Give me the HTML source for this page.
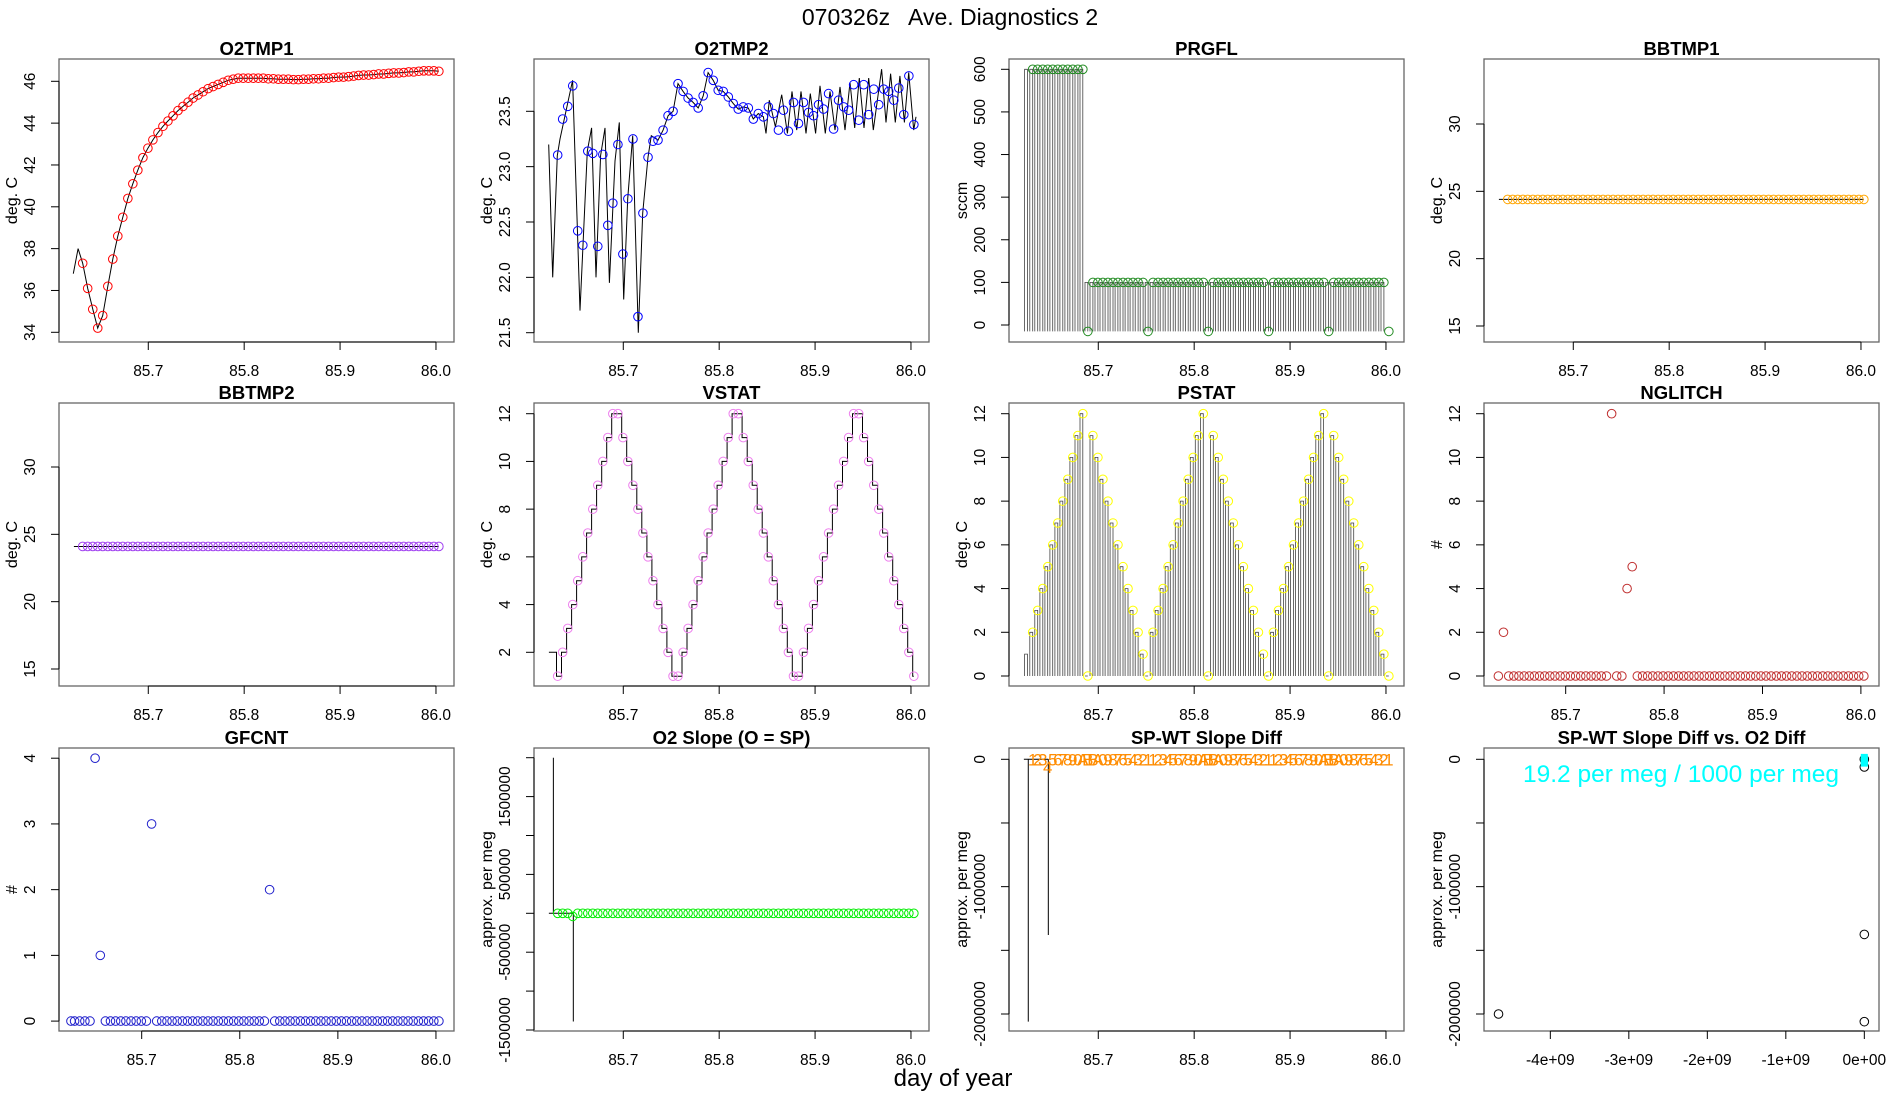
<!DOCTYPE html>
<html><head><meta charset="utf-8"><title>070326z Ave. Diagnostics 2</title>
<style>
html,body{margin:0;padding:0;background:#fff;}
svg{display:block;font-family:"Liberation Sans",Arial,sans-serif;}
</style></head>
<body>
<svg id="chart" width="1900" height="1100" viewBox="0 0 1900 1100" xmlns="http://www.w3.org/2000/svg">
<rect width="1900" height="1100" fill="#fff"/>
<text x="950" y="25" text-anchor="middle" font-size="23" xml:space="preserve">070326z   Ave. Diagnostics 2</text>
<text x="953" y="1086" text-anchor="middle" font-size="24">day of year</text>
</svg>
<script>
// ---- data ----
const t = [85.6316,85.6368,85.6421,85.6473,85.6525,85.6578,85.6630,85.6682,85.6734,85.6787,85.6839,85.6891,85.6944,85.6996,85.7048,85.7101,85.7153,85.7205,85.7258,85.7310,85.7362,85.7415,85.7467,85.7519,85.7571,85.7624,85.7676,85.7728,85.7781,85.7833,85.7885,85.7938,85.7990,85.8042,85.8095,85.8147,85.8199,85.8251,85.8304,85.8356,85.8408,85.8461,85.8513,85.8565,85.8618,85.8670,85.8722,85.8775,85.8827,85.8879,85.8932,85.8984,85.9036,85.9088,85.9141,85.9193,85.9245,85.9298,85.9350,85.9402,85.9455,85.9507,85.9559,85.9612,85.9664,85.9716,85.9768,85.9821,85.9873,85.9925,85.9978,86.0030];
const o2tmp1 = [37.3,36.1,35.1,34.2,34.8,36.2,37.5,38.6,39.5,40.4,41.1,41.75,42.35,42.8,43.2,43.55,43.85,44.1,44.35,44.6,44.8,45.0,45.2,45.35,45.5,45.65,45.75,45.85,45.95,46.05,46.1,46.15,46.15,46.15,46.15,46.15,46.15,46.12,46.12,46.1,46.1,46.1,46.08,46.08,46.1,46.1,46.12,46.12,46.15,46.15,46.18,46.2,46.2,46.22,46.25,46.28,46.3,46.3,46.32,46.35,46.35,46.38,46.4,46.4,46.42,46.45,46.45,46.48,46.5,46.5,46.5,46.48];
const o2tmp1LeadX = [85.6218,85.6268];
const o2tmp1LeadY = [36.8,38.0];
const o2tmp2 = [23.105,23.43,23.545,23.73,22.42,22.29,23.14,23.12,22.28,23.11,22.47,22.67,23.2,22.21,22.71,23.25,21.645,22.58,23.085,23.23,23.24,23.33,23.46,23.5,23.75,23.68,23.62,23.58,23.53,23.64,23.85,23.78,23.69,23.68,23.63,23.57,23.52,23.54,23.53,23.43,23.48,23.45,23.54,23.48,23.33,23.51,23.32,23.58,23.39,23.58,23.49,23.46,23.56,23.52,23.66,23.34,23.6,23.54,23.51,23.74,23.42,23.74,23.47,23.7,23.56,23.7,23.68,23.6,23.71,23.47,23.82,23.38];
const o2tmp2LineX = [85.6222,85.6264,85.6312,85.6340,85.6472,85.6549,85.6625,85.6670,85.6716,85.6764,85.6809,85.6855,85.6914,85.6959,85.7004,85.7046,85.7098,85.7157,85.7202,85.7258,85.7292];
const o2tmp2LineY = [23.2,22.0,23.1,23.25,23.78,21.7,23.14,23.35,22.0,23.1,23.35,21.95,23.05,23.4,21.8,22.71,23.28,21.5,22.58,23.085,23.28];
const o2tmp2TailX = [85.8488,85.8523,85.8586,85.8652,85.8711,85.8759,85.8808,85.8853,85.8905,85.8950,85.9006,85.9051,85.9107,85.9156,85.9208,85.9260,85.9312,85.9364,85.9413,85.9461,85.9510,85.9559,85.9607,85.9694,85.9740,85.9788,85.9837,85.9885,85.9931,85.9976,86.0028,86.0052];
const o2tmp2TailY = [23.3,23.6,23.36,23.65,23.3,23.68,23.33,23.68,23.3,23.66,23.3,23.73,23.3,23.68,23.33,23.72,23.33,23.76,23.35,23.8,23.35,23.8,23.33,23.88,23.4,23.84,23.4,23.82,23.4,23.85,23.33,23.45];
const prgfl = [600,600,600,600,600,600,600,600,600,600,600,-15,100,100,100,100,100,100,100,100,100,100,100,-15,100,100,100,100,100,100,100,100,100,100,100,-15,100,100,100,100,100,100,100,100,100,100,100,-15,100,100,100,100,100,100,100,100,100,100,100,-15,100,100,100,100,100,100,100,100,100,100,100,-15];
const bbtmp1 = [24.4,24.4,24.4,24.4,24.4,24.4,24.4,24.4,24.4,24.4,24.4,24.4,24.4,24.4,24.4,24.4,24.4,24.4,24.4,24.4,24.4,24.4,24.4,24.4,24.4,24.4,24.4,24.4,24.4,24.4,24.4,24.4,24.4,24.4,24.4,24.4,24.4,24.4,24.4,24.4,24.4,24.4,24.4,24.4,24.4,24.4,24.4,24.4,24.4,24.4,24.4,24.4,24.4,24.4,24.4,24.4,24.4,24.4,24.4,24.4,24.4,24.4,24.4,24.4,24.4,24.4,24.4,24.4,24.4,24.4,24.4,24.4];
const bbtmp2 = [24.1,24.1,24.1,24.1,24.1,24.1,24.1,24.1,24.1,24.1,24.1,24.1,24.1,24.1,24.1,24.1,24.1,24.1,24.1,24.1,24.1,24.1,24.1,24.1,24.1,24.1,24.1,24.1,24.1,24.1,24.1,24.1,24.1,24.1,24.1,24.1,24.1,24.1,24.1,24.1,24.1,24.1,24.1,24.1,24.1,24.1,24.1,24.1,24.1,24.1,24.1,24.1,24.1,24.1,24.1,24.1,24.1,24.1,24.1,24.1,24.1,24.1,24.1,24.1,24.1,24.1,24.1,24.1,24.1,24.1,24.1,24.1];
const vstat = [1,2,3,4,5,6,7,8,9,10,11,12,12,11,10,9,8,7,6,5,4,3,2,1,1,2,3,4,5,6,7,8,9,10,11,12,12,11,10,9,8,7,6,5,4,3,2,1,1,2,3,4,5,6,7,8,9,10,11,12,12,11,10,9,8,7,6,5,4,3,2,1];
const pstat = [2,3,4,5,6,7,8,9,10,11,12,0,11,10,9,8,7,6,5,4,3,2,1,0,2,3,4,5,6,7,8,9,10,11,12,0,11,10,9,8,7,6,5,4,3,2,1,0,2,3,4,5,6,7,8,9,10,11,12,0,11,10,9,8,7,6,5,4,3,2,1,0];
const nglitch = [0,2,0,0,0,0,0,0,0,0,0,0,0,0,0,0,0,0,0,0,0,0,12,0,0,4,5,0,0,0,0,0,0,0,0,0,0,0,0,0,0,0,0,0,0,0,0,0,0,0,0,0,0,0,0,0,0,0,0,0,0,0,0,0,0,0,0,0,0,0,0,0];
const gfcntLeadX = [85.6279];
const gfcntLeadY = [0];
const gfcnt = [0,0,0,0,4,1,0,0,0,0,0,0,0,0,0,3,0,0,0,0,0,0,0,0,0,0,0,0,0,0,0,0,0,0,0,0,0,0,2,0,0,0,0,0,0,0,0,0,0,0,0,0,0,0,0,0,0,0,0,0,0,0,0,0,0,0,0,0,0,0,0,0];
const o2slope = [0,0,0,-40000,0,0,0,0,0,0,0,0,0,0,0,0,0,0,0,0,0,0,0,0,0,0,0,0,0,0,0,0,0,0,0,0,0,0,0,0,0,0,0,0,0,0,0,0,0,0,0,0,0,0,0,0,0,0,0,0,0,0,0,0,0,0,0,0,0,0,0,0];
const o2slopeStemX = [85.6224,85.6271,85.6479];
const o2slopeStemY = [0,2000000,-1390000];
const spwt = [0,0,0,-60000,0,0,0,0,0,0,0,0,0,0,0,0,0,0,0,0,0,0,0,0,0,0,0,0,0,0,0,0,0,0,0,0,0,0,0,0,0,0,0,0,0,0,0,0,0,0,0,0,0,0,0,0,0,0,0,0,0,0,0,0,0,0,0,0,0,0,0,0];
const spwtStemX = [85.6224,85.6270,85.6479];
const spwtStemY = [0,-2060000,-1380000];
const vsDiffX = [-4.66e9,0,0,0,0];
const vsDiffY = [-2000000,-2060000,-1375000,-60000,0];
const vsCyanX = [0,0,0,0];
const vsCyanY = [15000,0,-15000,-30000];
const dayTicks = [85.7,85.8,85.9,86.0];
const dayTickLabels = ["85.7","85.8","85.9","86.0"];
const e9Ticks = [-4e9,-3e9,-2e9,-1e9,0];
const e9TickLabels = ["-4e+09","-3e+09","-2e+09","-1e+09","0e+00"];

// ---- layout ----
const NS = "http://www.w3.org/2000/svg";
const svg = document.getElementById("chart");
const colLeft = [59,534,1009,1484], rowTop = [59,403,748], PW = 395, PH = 283;
const STD = [85.6069,86.0188];

function mk(tag, attrs, parent){
  const e = document.createElementNS(NS, tag);
  for (const k in attrs) e.setAttribute(k, attrs[k]);
  (parent||svg).appendChild(e);
  return e;
}

function makePanel(cfg){
  const L = colLeft[cfg.col], T = rowTop[cfg.row];
  const g = mk("g", {});
  
  
  const xd = cfg.xd;
  const sx = d => L + (d - xd[0]) / (xd[1] - xd[0]) * PW;
  const [v1,p1,v2,p2] = cfg.yref;
  const sy = v => p1 + (v - v1) * (p2 - p1) / (v2 - v1);
  const box = mk("rect", {x:L, y:T, width:PW, height:PH, fill:"none", stroke:"#666", "stroke-width":1.3}, g);
  
  
  const title = mk("text", {x:L+PW/2, y:T-4, "text-anchor":"middle", "font-size":18.5, "font-weight":"bold"}, g);
  title.textContent = cfg.title;
  
  
  const xa = mk("g", {}, g);
  
  
  const xt = cfg.xticks, xl = cfg.xlabels;
  const xaxLine = mk("line", {x1:sx(xt[0]), x2:sx(xt[xt.length-1]), y1:T+PH, y2:T+PH, stroke:"#000", "stroke-width":1}, xa);
  
  
  xt.forEach((v,i)=>{
    const tk = mk("line", {x1:sx(v), x2:sx(v), y1:T+PH, y2:T+PH+8, stroke:"#000", "stroke-width":1}, xa);
    
    
    const lb = mk("text", {x:sx(v), y:T+PH+34, "text-anchor":"middle", "font-size":15.5}, xa);
    lb.textContent = xl[i];
    
    
  });
  const ya = mk("g", {}, g);
  
  
  const yt = cfg.yticks, yl = cfg.ylabels;
  const yaxLine = mk("line", {x1:L, x2:L, y1:sy(yt[0]), y2:sy(yt[yt.length-1]), stroke:"#000", "stroke-width":1}, ya);
  
  
  yt.forEach((v,i)=>{
    const tk = mk("line", {x1:L-8, x2:L, y1:sy(v), y2:sy(v), stroke:"#000", "stroke-width":1}, ya);
    
    
    if (yl[i] !== "") {
      const lx = L - 24, ly = sy(v);
      const lb = mk("text", {x:lx, y:ly, "text-anchor":"middle", "font-size":15.5, transform:"rotate(-90 "+lx+" "+ly+")"}, ya);
      lb.textContent = yl[i];
      
      
    }
  });
  const yx = L - 42, yy = T + PH/2;
  const ylab = mk("text", {x:yx, y:yy, "text-anchor":"middle", "font-size":16, transform:"rotate(-90 "+yx+" "+yy+")"}, g);
  ylab.textContent = cfg.ylab;
  
  
  return {g, sx, sy};
}

function line(p, xs, ys, name){
  const d = xs.map((x,i)=>(i?"L":"M")+p.sx(x).toFixed(1)+","+p.sy(ys[i]).toFixed(1)).join("");
  const e = mk("path", {d, fill:"none", stroke:"#000", "stroke-width":1}, p.g);
  
  
}
function points(p, xs, ys, color, name){
  const g = mk("g", {fill:"none", stroke:color, "stroke-width":1}, p.g);
  
  
  xs.forEach((x,i)=>{
    const c = mk("circle", {cx:p.sx(x), cy:p.sy(ys[i]), r:4.3}, g);
    
    
  });
}
function combBars(p, xs, ys, base, w, name){
  let d = "";
  xs.forEach((x,i)=>{
    const xr = p.sx(x), xl = p.sx(x - w), y0 = p.sy(base), y1 = p.sy(ys[i]);
    d += "M"+xl.toFixed(1)+","+y0.toFixed(1)+"V"+y1.toFixed(1)+"H"+xr.toFixed(1)+"V"+y0.toFixed(1);
  });
  const e = mk("path", {d, fill:"none", stroke:"#444", "stroke-width":0.8}, p.g);
  
  
}
function stems(p, xs, ys, name){
  let d = "M"+p.sx(xs[0])+","+p.sy(0)+"H"+p.sx(xs[xs.length-1]);
  xs.forEach((x,i)=>{ d += "M"+p.sx(x)+","+p.sy(0)+"V"+p.sy(ys[i]); });
  const e = mk("path", {d, fill:"none", stroke:"#000", "stroke-width":1}, p.g);
  
  
}

let p = makePanel({key:"o2tmp1", title:"O2TMP1", col:0,row:0, ylab:"deg. C", xd:STD, yref:[46,81.3,34,332.3], yticks:[34,36,38,40,42,44,46], ylabels:["34","36","38","40","42","44","46"], xticks:dayTicks, xlabels:dayTickLabels});
line(p, o2tmp1LeadX.concat(t), o2tmp1LeadY.concat(o2tmp1), "o2tmp1-line");
points(p, t, o2tmp1, "#ff0000", "o2tmp1-points");

p = makePanel({key:"o2tmp2", title:"O2TMP2", col:1,row:0, ylab:"deg. C", xd:STD, yref:[23.5,111.3,21.5,332.7], yticks:[21.5,22,22.5,23,23.5], ylabels:["21.5","22.0","22.5","23.0","23.5"], xticks:dayTicks, xlabels:dayTickLabels});
line(p, o2tmp2LineX.concat(t.slice(20,42), o2tmp2TailX), o2tmp2LineY.concat(o2tmp2.slice(20,42), o2tmp2TailY), "o2tmp2-line");
points(p, t, o2tmp2, "#0000ff", "o2tmp2-points");

p = makePanel({key:"prgfl", title:"PRGFL", col:2,row:0, ylab:"sccm", xd:STD, yref:[600,69.3,0,325], yticks:[0,100,200,300,400,500,600], ylabels:["0","100","200","300","400","500","600"], xticks:dayTicks, xlabels:dayTickLabels});
combBars(p, [85.6262].concat(t.slice(0,71)), [600].concat(prgfl.slice(0,71)).map(v=>v<0?100:v), -15, 0.0030, "prgfl-comb-line");
points(p, t, prgfl, "#228b22", "prgfl-points");

p = makePanel({key:"bbtmp1", title:"BBTMP1", col:3,row:0, ylab:"deg. C", xd:STD, yref:[30,124,15,326], yticks:[15,20,25,30], ylabels:["15","20","25","30"], xticks:dayTicks, xlabels:dayTickLabels});
line(p, [85.6224].concat(t), [bbtmp1[0]].concat(bbtmp1), "bbtmp1-line");
points(p, t, bbtmp1, "#ffa500", "bbtmp1-points");

p = makePanel({key:"bbtmp2", title:"BBTMP2", col:0,row:1, ylab:"deg. C", xd:STD, yref:[30,467,15,669], yticks:[15,20,25,30], ylabels:["15","20","25","30"], xticks:dayTicks, xlabels:dayTickLabels});
line(p, [85.6224].concat(t), [bbtmp2[0]].concat(bbtmp2), "bbtmp2-line");
points(p, t, bbtmp2, "#a040f0", "bbtmp2-points");

p = makePanel({key:"vstat", title:"VSTAT", col:1,row:1, ylab:"deg. C", xd:STD, yref:[12,413.7,2,652.3], yticks:[2,4,6,8,10,12], ylabels:["2","4","6","8","10","12"], xticks:dayTicks, xlabels:dayTickLabels});
(function(){
  const xs = [85.6224].concat(t), ys = [2].concat(vstat);
  let d = "M"+p.sx(xs[0]).toFixed(1)+","+p.sy(ys[0]).toFixed(1);
  for (let i=1;i<xs.length;i++){ d += "H"+p.sx(xs[i]-0.0012).toFixed(1)+"V"+p.sy(ys[i]).toFixed(1); }
  d += "H"+p.sx(xs[xs.length-1]).toFixed(1);
  const e = mk("path", {d, fill:"none", stroke:"#000", "stroke-width":1}, p.g);
  
  
})();
points(p, t, vstat, "#ee82ee", "vstat-points");

p = makePanel({key:"pstat", title:"PSTAT", col:2,row:1, ylab:"deg. C", xd:STD, yref:[12,413.7,0,676], yticks:[0,2,4,6,8,10,12], ylabels:["0","2","4","6","8","10","12"], xticks:dayTicks, xlabels:dayTickLabels});
combBars(p, [85.6262].concat(t), [1].concat(pstat), 0, 0.0030, "pstat-comb-line");
points(p, t, pstat, "#ffff00", "pstat-points");

p = makePanel({key:"nglitch", title:"NGLITCH", col:3,row:1, ylab:"#", xd:[85.617,86.0184], yref:[12,413.7,0,676], yticks:[0,2,4,6,8,10,12], ylabels:["0","2","4","6","8","10","12"], xticks:dayTicks, xlabels:dayTickLabels});
points(p, t, nglitch, "#c03030", "nglitch-points");

p = makePanel({key:"gfcnt", title:"GFCNT", col:0,row:2, ylab:"#", xd:[85.6157,86.0184], yref:[4,758.2,0,1021.1], yticks:[0,1,2,3,4], ylabels:["0","1","2","3","4"], xticks:dayTicks, xlabels:dayTickLabels});
points(p, gfcntLeadX.concat(t), gfcntLeadY.concat(gfcnt), "#2222cc", "gfcnt-points");

p = makePanel({key:"o2-slope", title:"O2 Slope (O = SP)", col:1,row:2, ylab:"approx. per meg", xd:STD, yref:[0,913.3,1500000,796.6], yticks:[-1500000,-1000000,-500000,0,500000,1000000,1500000,2000000], ylabels:["-1500000","","-500000","","500000","","1500000",""], xticks:dayTicks, xlabels:dayTickLabels});
stems(p, o2slopeStemX, o2slopeStemY, "o2-slope-stems");
points(p, t, o2slope, "#00ee00", "o2-slope-points");

p = makePanel({key:"spwt-diff", title:"SP-WT Slope Diff", col:2,row:2, ylab:"approx. per meg", xd:STD, yref:[0,759.3,-2000000,1014], yticks:[-2000000,-1500000,-1000000,-500000,0], ylabels:["-2000000","","-1000000","","0"], xticks:dayTicks, xlabels:dayTickLabels});
stems(p, spwtStemX, spwtStemY, "spwt-diff-stems");
(function(){
  const g = mk("g", {fill:"#ff8c00", "font-size":17, "text-anchor":"middle"}, p.g);
  
  
  const chars = "_1234567890AB";
  t.forEach((x,i)=>{
    const e = mk("text", {x:p.sx(x), y:p.sy(spwt[i])+6}, g);
    e.textContent = chars[vstat[i]];
    
    
  });
})();

p = makePanel({key:"spwt-vs-o2", title:"SP-WT Slope Diff vs. O2 Diff", col:3,row:2, ylab:"approx. per meg", xd:[-4.845e9,0.187e9], yref:[0,759.3,-2000000,1014], yticks:[-2000000,-1500000,-1000000,-500000,0], ylabels:["-2000000","","-1000000","","0"], xticks:e9Ticks, xlabels:e9TickLabels});
points(p, vsDiffX, vsDiffY, "#000000", "spwt-vs-o2-points");
(function(){
  const g = mk("g", {fill:"#00ffff"}, p.g);
  
  
  vsCyanX.forEach((x,i)=>{
    const e = mk("rect", {x:p.sx(x)-3.5, y:p.sy(vsCyanY[i])-3.5, width:7, height:7}, g);
    
    
  });
  const tx = mk("text", {x:1681, y:782, "text-anchor":"middle", "font-size":24.5, fill:"#00ffff"}, p.g);
  tx.textContent = "19.2 per meg / 1000 per meg";
  
  
})();
</script>
</body></html>
